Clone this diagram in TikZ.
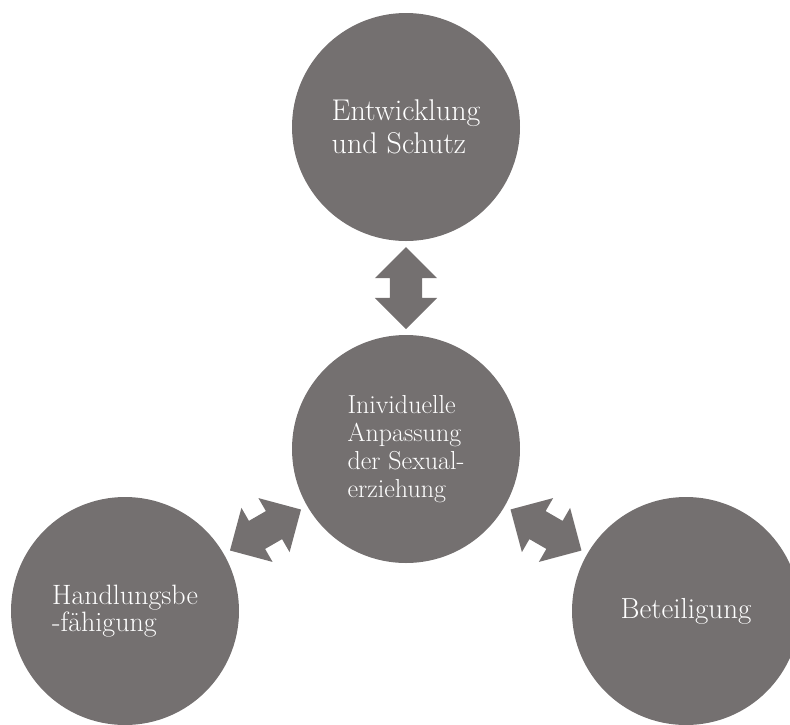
\documentclass[tikz,border=0pt]{standalone}
\usepackage{tikz}
\usetikzlibrary{shapes,arrows,calc}
\definecolor{circgray}{HTML}{747070}

\begin{document}
\begin{tikzpicture}[x=1pt, y=-1pt,
    bubble/.style={circle, fill=circgray, text=white, minimum size=228pt, inner sep=0pt, align=left},
    dblarrow/.style={double arrow, fill=circgray, minimum height=82pt, inner xsep=0pt, inner ysep=16pt,
        double arrow head extend=15pt, sloped, pos=0.5}]
    \clip (0,0) rectangle (790,724);

    % Circles
    \node [bubble, font=\fontsize{30}{33}\selectfont] (schutz) at (406,127) {Entwicklung\\und Schutz};
    \node [bubble, font=\fontsize{26}{28}\selectfont] (sexed) at (406,449) {Inividuelle\\Anpassung\\der Sexual-\\erziehung};
    \node [bubble, font=\fontsize{28}{27}\selectfont] (handl) at (125,611) {Handlungsbe\\-fähigung};
    \node [bubble, font=\fontsize{29}{33}\selectfont] (beteil) at (686,611) {Beteiligung};

    % Arrows
    \path (sexed) -- node [dblarrow] {} (schutz);
    \path (sexed) -- node [dblarrow] {} (handl);
    \path (sexed) -- node [dblarrow] {} (beteil);
\end{tikzpicture}
\end{document}
